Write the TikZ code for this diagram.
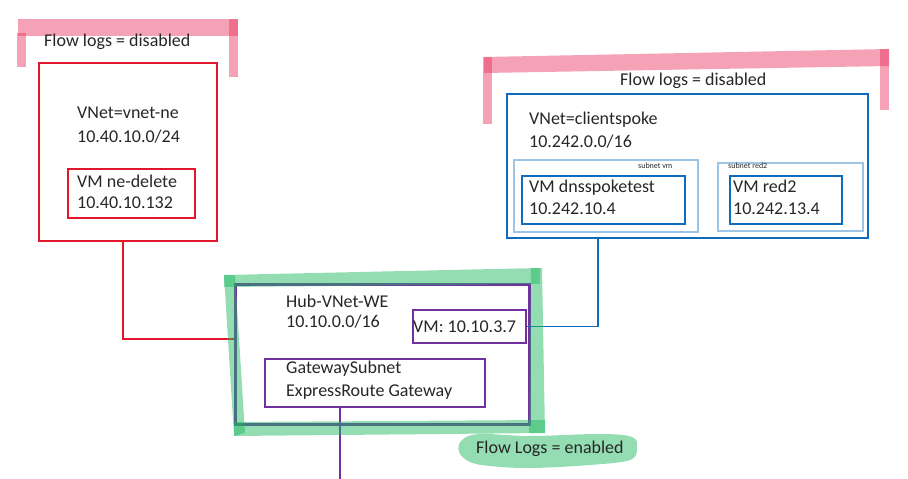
\documentclass[tikz,border=0pt]{standalone}
\usepackage{fontspec}
\setmainfont{Carlito}
\usetikzlibrary{calc}
\definecolor{txt}{HTML}{262626}
\definecolor{redc}{HTML}{E3172B}
\definecolor{bluec}{HTML}{0F6CBD}
\definecolor{lightb}{HTML}{9DC3E6}
\definecolor{purc}{HTML}{7030A0}
\definecolor{pinkhl}{HTML}{E8305F}
\definecolor{greenhl}{HTML}{20B860}
\begin{document}
\begin{tikzpicture}[x=1pt,y=-1pt,
  lbl/.style={anchor=base west, text=txt, font=\fontsize{18}{22}\selectfont, inner sep=0pt},
  tiny/.style={anchor=base west, text=txt, font=\fontsize{8}{9}\selectfont, inner sep=0pt},
  box/.style={draw, anchor=north west, inner sep=0pt},
  pinkstroke/.style={fill=pinkhl, fill opacity=0.45},
  greenstroke/.style={fill=greenhl, fill opacity=0.48},
  conn/.style={line width=1.8pt},
]
\useasboundingbox (0,0) rectangle (908,479);

% ---------- left VNet ----------
\node[box, draw=redc, line width=2pt, minimum width=178pt, minimum height=178pt] (vne) at (38,62) {};
\node[box, draw=redc, line width=2pt, minimum width=127pt, minimum height=49pt] (nevm) at (67,168) {};

% ---------- right VNet ----------
\node[box, draw=bluec, line width=2pt, minimum width=361pt, minimum height=144pt] (cs) at (506,93) {};
\node[box, draw=lightb, line width=1.5pt, minimum width=184pt, minimum height=72pt] (subvm) at (513,159) {};
\node[box, draw=lightb, line width=1.5pt, minimum width=145pt, minimum height=68pt] (subred) at (717,162) {};
\node[box, draw=bluec, line width=2pt, minimum width=163pt, minimum height=48pt] (dnsvm) at (521,175) {};
\node[box, draw=bluec, line width=2pt, minimum width=112pt, minimum height=48pt] (redvm) at (729,175) {};

% ---------- hub ----------
\node[box, draw=purc, line width=2.6pt, minimum width=294pt, minimum height=140pt] (hub) at (234,283) {};
\node[box, draw=purc, line width=2pt, minimum width=113pt, minimum height=33pt] (vmhub) at (412,309) {};
\node[box, draw=purc, line width=2pt, minimum width=220pt, minimum height=48pt] (gw) at (264,358) {};

% ---------- connectors ----------
\coordinate (rc) at (123,339);
\draw[redc, conn] (vne.south -| rc) |- (hub.west |- rc);
\coordinate (bc) at (598,0);
\draw[bluec, conn] (cs.south -| bc) |- (vmhub.east);
\coordinate (pc) at (340,479);
\draw[purc, line width=1.5pt] (gw.south -| pc) -- (pc);

% ---------- highlighter strokes ----------
\fill[pinkstroke] (18,19) -- (238,19) -- (238,36) -- (18,36) -- cycle;
\fill[pinkstroke] (17,33) -- (26,33) -- (26,67) -- (17,67) -- cycle;
\fill[pinkstroke] (229,19) -- (238,19) -- (238,77) -- (229,77) -- cycle;

\fill[pinkstroke] (484,57) -- (889,49) -- (889,66) -- (484,73) -- cycle;
\fill[pinkstroke] (483,57) -- (492,57) -- (492,124) -- (483,124) -- cycle;
\fill[pinkstroke] (880,49) -- (889,49) -- (889,110) -- (880,110) -- cycle;

\fill[greenstroke] (224,275) -- (540,268) -- (540,284) -- (224,287) -- cycle;
\fill[greenstroke] (224,275) -- (235,275) -- (245,433) -- (234,436) -- cycle;
\fill[greenstroke] (234,422) -- (545,420) -- (545,433) -- (234,436) -- cycle;
\fill[greenstroke] (531,268) -- (542,268) -- (545,433) -- (529,433) -- cycle;

\fill[greenstroke] plot[smooth cycle, tension=0.6] coordinates {(462,440) (480,434) (530,436) (600,434) (632,437) (637,448) (630,460) (590,465) (530,468) (490,466) (470,462) (459,452)};

% ---------- texts ----------
\node[lbl] (t1) at (44,46) {Flow logs = disabled};
\node[lbl] (t2) at (77,118) {VNet=vnet-ne};
\node[lbl] (t3) at (77,142) {10.40.10.0/24};
\node[lbl] (t4) at (77,187) {VM ne-delete};
\node[lbl] (t5) at (77,208) {10.40.10.132};

\node[lbl] (t6) at (620,85) {Flow logs = disabled};
\node[lbl] (t7) at (529,124) {VNet=clientspoke};
\node[lbl] (t8) at (529,147) {10.242.0.0/16};
\node[tiny] (t9) at (638,168) {subnet vm};
\node[tiny] (t10) at (728,168) {subnet red2};
\node[lbl] (t11) at (529,192) {VM dnsspoketest};
\node[lbl] (t12) at (529,214) {10.242.10.4};
\node[lbl] (t13) at (733,192) {VM red2};
\node[lbl] (t14) at (733,214) {10.242.13.4};

\node[lbl] (t15) at (286,307) {Hub-VNet-WE};
\node[lbl] (t16) at (286,327) {10.10.0.0/16};
\node[lbl] (t17) at (413,332) {VM: 10.10.3.7};
\node[lbl] (t18) at (286,373) {GatewaySubnet};
\node[lbl] (t19) at (286,396) {ExpressRoute Gateway};
\node[lbl] (t20) at (476,453) {Flow Logs = enabled};
\end{tikzpicture}
\end{document}
